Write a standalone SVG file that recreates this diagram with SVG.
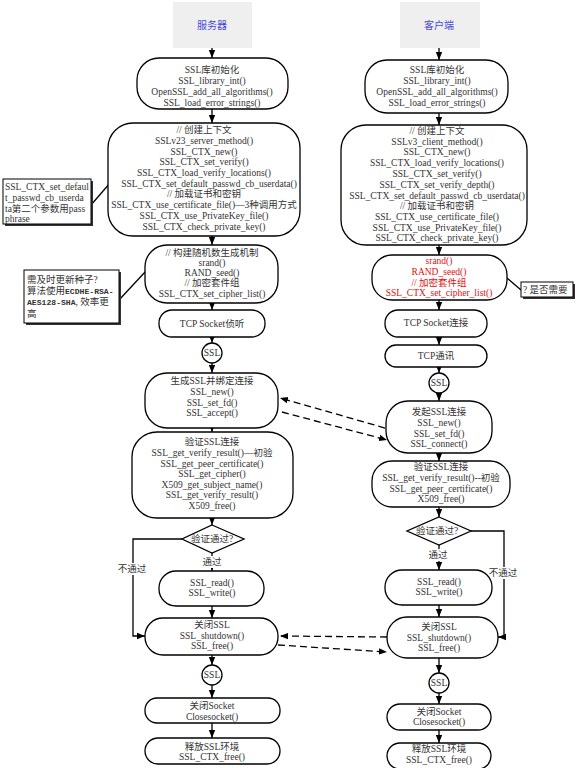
<svg xmlns="http://www.w3.org/2000/svg" width="577" height="768" viewBox="0 0 577 768">
<defs>
<marker id="ah" markerUnits="userSpaceOnUse" markerWidth="8" markerHeight="8" viewBox="0 0 8 8" refX="8" refY="4" orient="auto"><path d="M0,0.8 L8,4 L0,7.2 Z" fill="#000"/></marker>
<style>
.n{fill:#fff;stroke:#000;stroke-width:1.3}
.hd{fill:#efefef;stroke:none}
.t{font-family:"Liberation Serif","Noto Sans CJK SC",serif;font-size:9.5px;fill:#333;text-anchor:middle;dominant-baseline:central}
.tl{font-family:"Liberation Serif","Noto Sans CJK SC",serif;font-size:9.5px;fill:#333;dominant-baseline:central}
.b{font-family:"Liberation Mono",monospace;font-weight:bold;font-size:8.1px}
.h{font-family:"Liberation Sans","Noto Sans CJK SC",sans-serif;font-size:10px;fill:#4848d8;text-anchor:middle;dominant-baseline:central}
.r{fill:#e01010}
.c{fill:none;stroke:#000;stroke-width:1.3}
.ca{fill:none;stroke:#000;stroke-width:1.3;marker-end:url(#ah)}
.d{fill:none;stroke:#000;stroke-width:1.3;stroke-dasharray:7,4;marker-end:url(#ah)}
.note{fill:#fff;stroke:#000;stroke-width:1}
.sh{fill:#333}
.bg{fill:#fff}
</style>
</defs>

<g id="connectors">
<path class="ca" d="M212,48 V58"/>
<path class="ca" d="M212,109 V123"/>
<path class="ca" d="M212,236 V245"/>
<path class="ca" d="M212,303 V310"/>
<path class="ca" d="M212,337 V343"/>
<path class="ca" d="M212,363 V373"/>
<path class="ca" d="M212,428 V432"/>
<path class="ca" d="M212,518 V525"/>
<path class="ca" d="M212,553 V571"/>
<path class="ca" d="M212,606 V618"/>
<path class="ca" d="M182,539 H133 V636 H145"/>
<path class="ca" d="M212,655 V665"/>
<path class="ca" d="M212,685 V698"/>
<path class="ca" d="M212,723 V738"/>

<path class="ca" d="M439,48 V60"/>
<path class="ca" d="M439,113 V125"/>
<path class="ca" d="M439,245 V255"/>
<path class="ca" d="M439,300 V310"/>
<path class="ca" d="M439,337 V345"/>
<path class="ca" d="M439,367 V373"/>
<path class="ca" d="M439,393 V401"/>
<path class="ca" d="M439,453 V461"/>
<path class="ca" d="M439,507 V517"/>
<path class="ca" d="M439,545 V570"/>
<path class="ca" d="M439,605 V617"/>
<path class="ca" d="M471,531 H504 V637 H498"/>
<path class="ca" d="M439,658 V673"/>
<path class="ca" d="M439,693 V704"/>
<path class="ca" d="M439,730 V743"/>

<path class="d" d="M385,428 L280,398"/>
<path class="d" d="M282,412 L387,440"/>
<path class="d" d="M387,637 L280,636"/>
<path class="d" d="M278,645 L387,652"/>

<path class="c" d="M91,205 L110,183"/>
<path class="c" d="M119,300 L146,271"/>
<path class="c" d="M507,278 L521,290"/>

<rect class="bg" x="203" y="556" width="18" height="12"/>
<text class="t" x="212" y="562">通过</text>
<rect class="bg" x="118" y="563" width="29" height="12"/>
<text class="t" x="132" y="569">不通过</text>
<rect class="bg" x="429" y="549" width="18" height="12"/>
<text class="t" x="438" y="555">通过</text>
<rect class="bg" x="489" y="567" width="29" height="12"/>
<text class="t" x="503" y="573">不通过</text>
</g>

<g id="hdr-server"><rect class="hd" x="173" y="2" width="79" height="46"/><text class="h" x="212" y="25">服务器</text></g>
<g id="hdr-client"><rect class="hd" x="400" y="2" width="80" height="46"/><text class="h" x="439" y="25">客户端</text></g>

<g id="s1"><rect class="n" x="137" y="58" width="151" height="51" rx="22"/>
<text class="t" x="212" y="70">SSL库初始化</text>
<text class="t" x="212" y="81">SSL_library_int()</text>
<text class="t" x="212" y="92">OpenSSL_add_all_algorithms()</text>
<text class="t" x="212" y="103">SSL_load_error_strings()</text></g>

<g id="s2"><rect class="n" x="108" y="123" width="192" height="113" rx="25"/>
<text class="t" x="204" y="130">// 创建上下文</text>
<text class="t" x="204" y="141">SSLv23_server_method()</text>
<text class="t" x="204" y="152">SSL_CTX_new()</text>
<text class="t" x="204" y="162">SSL_CTX_set_verify()</text>
<text class="t" x="204" y="173">SSL_CTX_load_verify_locations()</text>
<text class="t" x="209" y="184">SSL_CTX_set_default_passwd_cb_userdata()</text>
<text class="t" x="204" y="194">// 加载证书和密钥</text>
<text class="t" x="204" y="205">SSL_CTX_use_certificate_file()—3种调用方式</text>
<text class="t" x="204" y="216">SSL_CTX_use_PrivateKey_file()</text>
<text class="t" x="204" y="227">SSL_CTX_check_private_key()</text></g>

<g id="s3"><rect class="n" x="145" y="245" width="133" height="58" rx="22"/>
<text class="t" x="212" y="253">// 构建随机数生成机制</text>
<text class="t" x="212" y="263">srand()</text>
<text class="t" x="212" y="273">RAND_seed()</text>
<text class="t" x="212" y="283">// 加密套件组</text>
<text class="t" x="212" y="294">SSL_CTX_set_cipher_list()</text></g>

<g id="s4"><rect class="n" x="159" y="310" width="106" height="27" rx="13"/>
<text class="t" x="212" y="324">TCP Socket侦听</text></g>

<g id="s-ssl1"><circle class="n" cx="212" cy="353" r="10"/><text class="t" x="212" y="353">SSL</text></g>

<g id="s5"><rect class="n" x="145" y="373" width="133" height="55" rx="22"/>
<text class="t" x="212" y="381">生成SSL并绑定连接</text>
<text class="t" x="212" y="392">SSL_new()</text>
<text class="t" x="212" y="403">SSL_set_fd()</text>
<text class="t" x="212" y="413">SSL_accept()</text></g>

<g id="s6"><rect class="n" x="132" y="432" width="161" height="86" rx="25"/>
<text class="t" x="212" y="442">验证SSL连接</text>
<text class="t" x="212" y="453">SSL_get_verify_result()—初验</text>
<text class="t" x="212" y="464">SSL_get_peer_certificate()</text>
<text class="t" x="212" y="474">SSL_get_cipher()</text>
<text class="t" x="212" y="485">X509_get_subject_name()</text>
<text class="t" x="212" y="495">SSL_get_verify_result()</text>
<text class="t" x="212" y="506">X509_free()</text></g>

<g id="s-dec"><polygon class="n" points="212,525 244,539 212,553 182,539"/>
<text class="t" x="212" y="539">验证通过?</text></g>

<g id="s7"><rect class="n" x="159" y="571" width="105" height="35" rx="17"/>
<text class="t" x="212" y="583">SSL_read()</text>
<text class="t" x="212" y="593">SSL_write()</text></g>

<g id="s8"><rect class="n" x="145" y="618" width="133" height="37" rx="18"/>
<text class="t" x="212" y="625">关闭SSL</text>
<text class="t" x="212" y="636">SSL_shutdown()</text>
<text class="t" x="212" y="646">SSL_free()</text></g>

<g id="s-ssl2"><circle class="n" cx="212" cy="675" r="10"/><text class="t" x="212" y="675">SSL</text></g>

<g id="s9"><rect class="n" x="145" y="698" width="135" height="25" rx="12"/>
<text class="t" x="212" y="706">关闭Socket</text>
<text class="t" x="212" y="717">Closesocket()</text></g>

<g id="s10"><rect class="n" x="145" y="738" width="135" height="26" rx="13"/>
<text class="t" x="212" y="747">释放SSL环境</text>
<text class="t" x="212" y="757">SSL_CTX_free()</text></g>

<g id="c1"><rect class="n" x="365" y="60" width="143" height="53" rx="22"/>
<text class="t" x="437" y="70">SSL库初始化</text>
<text class="t" x="437" y="81">SSL_library_int()</text>
<text class="t" x="437" y="92">OpenSSL_add_all_algorithms()</text>
<text class="t" x="437" y="103">SSL_load_error_strings()</text></g>

<g id="c2"><rect class="n" x="341" y="125" width="186" height="120" rx="25"/>
<text class="t" x="437" y="131">// 创建上下文</text>
<text class="t" x="437" y="142">SSLv3_client_method()</text>
<text class="t" x="437" y="152">SSL_CTX_new()</text>
<text class="t" x="437" y="163">SSL_CTX_load_verify_locations()</text>
<text class="t" x="437" y="174">SSL_CTX_set_verify()</text>
<text class="t" x="437" y="185">SSL_CTX_set_verify_depth()</text>
<text class="t" x="437" y="196">SSL_CTX_set_default_passwd_cb_userdata()</text>
<text class="t" x="437" y="206">// 加载证书和密钥</text>
<text class="t" x="437" y="217">SSL_CTX_use_certificate_file()</text>
<text class="t" x="437" y="228">SSL_CTX_use_PrivateKey_file()</text>
<text class="t" x="437" y="238">SSL_CTX_check_private_key()</text></g>

<g id="c3"><rect class="n" x="372" y="255" width="135" height="45" rx="20"/>
<text class="t r" x="439" y="261">srand()</text>
<text class="t r" x="439" y="272">RAND_seed()</text>
<text class="t r" x="439" y="283">// 加密套件组</text>
<text class="t r" x="439" y="293">SSL_CTX_set_cipher_list()</text></g>

<g id="note-c"><rect class="sh" x="523" y="284" width="52" height="15"/><rect class="note" x="521" y="282" width="52" height="15"/>
<text class="tl" x="523" y="290">? 是否需要</text></g>

<g id="c4"><rect class="n" x="385" y="310" width="102" height="27" rx="13"/>
<text class="t" x="436" y="323">TCP Socket连接</text></g>

<g id="c5"><rect class="n" x="385" y="345" width="102" height="22" rx="11"/>
<text class="t" x="436" y="356">TCP通讯</text></g>

<g id="c-ssl1"><circle class="n" cx="439" cy="383" r="10"/><text class="t" x="439" y="383">SSL</text></g>

<g id="c6"><rect class="n" x="386" y="401" width="106" height="52" rx="22"/>
<text class="t" x="439" y="412">发起SSL连接</text>
<text class="t" x="439" y="423">SSL_new()</text>
<text class="t" x="439" y="434">SSL_set_fd()</text>
<text class="t" x="439" y="444">SSL_connect()</text></g>

<g id="c7"><rect class="n" x="372" y="461" width="138" height="46" rx="20"/>
<text class="t" x="441" y="467">验证SSL连接</text>
<text class="t" x="441" y="478">SSL_get_verify_result()--初验</text>
<text class="t" x="441" y="489">SSL_get_peer_certificate()</text>
<text class="t" x="441" y="499">X509_free()</text></g>

<g id="c-dec"><polygon class="n" points="439,517 471,531 439,545 407,531"/>
<text class="t" x="437" y="531">验证通过?</text></g>

<g id="c8"><rect class="n" x="385" y="570" width="107" height="35" rx="17"/>
<text class="t" x="439" y="582">SSL_read()</text>
<text class="t" x="439" y="592">SSL_write()</text></g>

<g id="c9"><rect class="n" x="387" y="617" width="111" height="41" rx="20"/>
<text class="t" x="439" y="627">关闭SSL</text>
<text class="t" x="439" y="638">SSL_shutdown()</text>
<text class="t" x="439" y="648">SSL_free()</text></g>

<g id="c-ssl2"><circle class="n" cx="439" cy="683" r="10"/><text class="t" x="439" y="683">SSL</text></g>

<g id="c10"><rect class="n" x="387" y="704" width="104" height="26" rx="13"/>
<text class="t" x="439" y="712">关闭Socket</text>
<text class="t" x="439" y="722">Closesocket()</text></g>

<g id="c11"><rect class="n" x="387" y="743" width="104" height="26" rx="13"/>
<text class="t" x="439" y="749">释放SSL环境</text>
<text class="t" x="439" y="760">SSL_CTX_free()</text></g>

<g id="note-1"><rect class="sh" x="5" y="181" width="88" height="45"/><rect class="note" x="3" y="179" width="88" height="45"/>
<text class="tl" x="5" y="187">SSL_CTX_set_defaul</text>
<text class="tl" x="5" y="198">t_passwd_cb_userda</text>
<text class="tl" x="5" y="209">ta第二个参数用pass</text>
<text class="tl" x="5" y="219">phrase</text></g>

<g id="note-2"><rect class="sh" x="26" y="272" width="95" height="53"/><rect class="note" x="24" y="270" width="95" height="53"/>
<text class="tl" x="27" y="280">需及时更新种子?</text>
<text class="tl" x="27" y="291">算法使用<tspan class="b">ECDHE-RSA-</tspan></text>
<text class="tl" x="27" y="302"><tspan class="b">AES128-SHA</tspan>, 效率更</text>
<text class="tl" x="27" y="314">高</text></g>
</svg>
